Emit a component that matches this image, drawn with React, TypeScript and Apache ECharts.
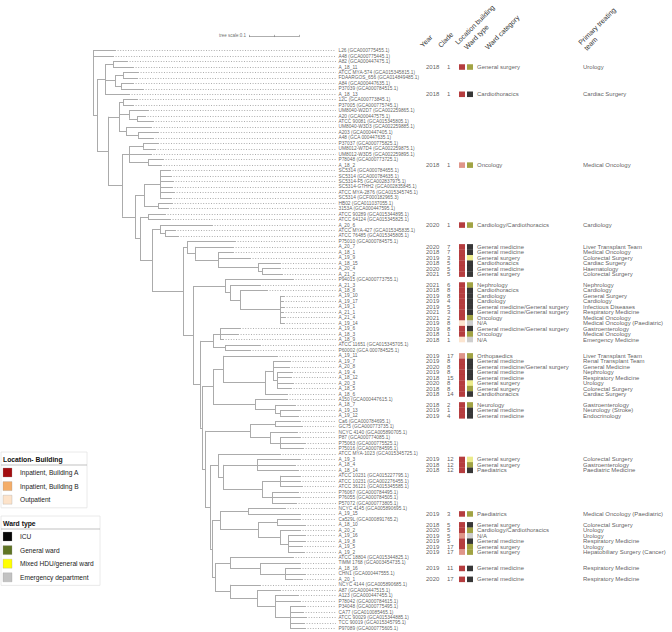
import React, { useEffect, useRef } from "react";
import * as echarts from "echarts";

// ---------------- DATA ----------------
const TIP_LABELS: string[] = [
  "L26 (GCA000775455.1)", "A48 (GCA000775445.1)", "A82 (GCA000447475.1)", "A_18_11",
  "ATCC MYA-574 (GCA015345815.1)", "FDAARGOS_656 (GCA014849485.1)", "A84 (GCA000447635.1)",
  "P37039 (GCA000784515.1)", "A_18_13", "12C (GCA000773845.1)", "P37005 (GCA000775745.1)",
  "UM8040-W2D7 (GCA002259865.1)", "A20 (GCA000447575.1)", "ATCC 90081 (GCA015345805.1)",
  "UM8040-W3D3 (GCA002259885.1)", "A203 (GCA000447405.1)", "A48 (GCA 000447635.1)",
  "P37037 (GCA000775825.1)", "UM8012-W7D4 (GCA002259875.1)", "UM8012-W3D5 (GCA002259895.1)",
  "P78048 (GCA000773725.1)", "A_18_2", "SC5314 (GCA000784655.1)", "SC5314 (GCA000784635.1)",
  "SC5314-F5 (GCA002837975.1)", "SC5314-GTHH2 (GCA002835845.1)", "ATCC MYA-2876 (GCA015345745.1)",
  "SC5314 (GCF000182965.3)", "HB02 (GCA011037055.1)", "3153A (GCA000447595.1)",
  "ATCC 90289 (GCA015344895.1)", "ATCC 64124 (GCA015345825.1)", "A_20_6",
  "ATCC MYA-427 (GCA015345835.1)", "ATCC 76485 (GCA015345805.1)", "P75010 (GCA000784575.1)",
  "A_20_7", "A_18_1", "A_19_9", "A_18_15", "A_20_4", "A_21_2", "P94015 (GCA000773755.1)",
  "A_21_3", "A_18_8", "A_19_10", "A_19_17", "A_19_1", "A_21_1", "A_21_4", "A_19_14", "A_19_6",
  "A_18_3", "A_18_9", "ATCC 11651 (GCA015345705.1)", "P60002 (GCA 000784525.1)", "A_19_11",
  "A_19_7", "A_20_8", "A_19_4", "A_18_12", "A_20_3", "A_18_5", "A_18_6", "A150 (GCA000447615.1)",
  "A_18_7", "A_19_13", "A_19_12", "Ca6 (GCA000784695.1)", "GC75 (GCA000773735.1)",
  "NCYC 4140 (GCA005890705.1)", "P87 (GCA000774085.1)", "P75063 (GCA000775525.1)",
  "P75016 (GCA000784595.1)", "ATCC MYA-1023 (GCA015345725.1)", "A_19_3", "A_18_4", "A_18_14",
  "ATCC 10231 (GCA015227795.1)", "ATCC 10231 (GCA002276455.1)", "ATCC 36121 (GCA015345585.1)",
  "P76067 (GCA000784495.1)", "P76055 (GCA000784505.1)", "P57072 (GCA000773805.1)",
  "NCYC 4145 (GCA005890695.1)", "A_19_15", "Ca529L (GCA000891765.2)", "A_18_10", "A_20_2",
  "A_19_16", "A_19_8", "A_19_5", "A_19_2", "ATCC 18804 (GCA015344825.1)",
  "TIMM 1768 (GCA003454735.1)", "A_18_16", "CHN1 (GCA000447555.1)", "A_20_1",
  "NCYC 4144 (GCA005890685.1)", "A87 (GCA000447515.1)", "A123 (GCA000447455.1)",
  "P78042 (GCA000784615.1)", "P34048 (GCA000775495.1)", "CA77 (GCA010085465.1)",
  "ATCC 90029 (GCA015344885.1)", "TCC 90019 (GCA015345795.1)", "P97089 (GCA000775605.1)",
];

// Tree in Newick pieces; leaves are 1-based tip numbers, branch lengths in substitutions/site
const TREE_PARTS: [string, string][] = [
  ["R", "(1:0.044,2:0.040,A:0.008)"],
  ["A", "(C1:0.016,B:0.022)"],
  ["C1", "((3:0.028,4:0.040):0.016,((5:0.030,6:0.028):0.016,(7:0.024,8:0.044):0.012):0.020,9:0.048)"],
  ["B", "(C2:0.022,C:0.028)"],
  ["C2", "((10:0.028,11:0.020):0.008,(12:0.038,(13:0.016,14:0.032):0.016):0.020,(15:0.050,(16:0.040,17:0.030):0.024):0.014)"],
  ["C", "(C3:0.014,D:0.026)"],
  ["C3", "((18:0.030,19:0.024):0.028,20:0.044,(21:0.030,22:0.026):0.038)"],
  ["D", "(C4:0.018,E:0.010)"],
  ["C4", "((23:0.020,24:0.022,25:0.026,26:0.024,27:0.028,28:0.022):0.032,(29:0.028,30:0.020):0.028)"],
  ["E", "(C5:0.016,F:0.024)"],
  ["C5", "(31:0.034,32:0.044)"],
  ["F", "(G:0.016,H:0.062)"],
  ["G", "(33:0.104,(34:0.020,35:0.026):0.010)"],
  ["H", "(M0:0.008,M2:0.020)"],
  ["M0", "(36:0.096,M1:0.016)"],
  ["M1", "(37:0.076,J:0.046)"],
  ["J", "(38:0.030,39:0.064,(40:0.044,(41:0.036,42:0.040):0.008):0.080)"],
  ["M2", "(N2:0.064,P:0.014)"],
  ["N2", "(43:0.136,(44:0.060,(45:0.054,(46:0.008,47:0.006,48:0.008,49:0.006,50:0.010,51:0.008):0.080):0.020):0.010)"],
  ["P", "(Q:0.026,P2:0.004)"],
  ["Q", "((52:0.040,53:0.036,54:0.006):0.014,(55:0.070,56:0.050):0.024)"],
  ["P2", "(S1:0.022,U:0.006)"],
  ["S1", "((57:0.108,((58:0.034,59:0.032,(60:0.030,61:0.028,62:0.032,63:0.028):0.008):0.016,64:0.044):0.084):0.020,(65:0.064,(66:0.040,(67:0.040,68:0.036):0.010):0.040):0.084)"],
  ["U", "(T:0.090,V:0.010)"],
  ["T", "((69:0.050,70:0.054):0.050,(71:0.054,(72:0.040,73:0.050,74:0.046):0.020):0.040)"],
  ["V", "(W:0.016,X:0.004)"],
  ["W", "(75:0.124,((76:0.086,77:0.076,78:0.082):0.068,((79:0.040,80:0.040,81:0.044):0.036,(82:0.052,83:0.056,84:0.048):0.020):0.078):0.010)"],
  ["X", "(X1:0.016,Y:0.006)"],
  ["X1", "((85:0.074,86:0.104):0.056,((87:0.046,88:0.056):0.038,(89:0.040,(90:0.034,91:0.034,92:0.028,93:0.032):0.016):0.044):0.076)"],
  ["Y", "(Y1:0.030,Z:0.030)"],
  ["Y1", "(94:0.126,(95:0.080,(96:0.030,97:0.040,98:0.034):0.050):0.060)"],
  ["Z", "(99:0.060,(100:0.046,(101:0.046,102:0.050,(103:0.030,104:0.026,105:0.032,106:0.028,107:0.030):0.030):0.036):0.054)"],
];

const ANNOT_TIPS = [
  "A_18_11", "A_18_13", "A_18_2", "A_20_6", "A_20_7", "A_18_1", "A_19_9", "A_18_15", "A_20_4", "A_21_2",
  "A_21_3", "A_18_8", "A_19_10", "A_19_17", "A_19_1", "A_21_1", "A_21_4", "A_19_14", "A_19_6", "A_18_3",
  "A_18_9", "A_19_11", "A_19_7", "A_20_8", "A_19_4", "A_18_12", "A_20_3", "A_18_5", "A_18_6", "A_18_7",
  "A_19_13", "A_19_12", "A_19_3", "A_18_4", "A_18_14", "A_19_15", "A_18_10", "A_20_2", "A_19_16", "A_19_8",
  "A_19_5", "A_19_2", "A_18_16", "A_20_1",
];
const YEARS = [
  2018, 2018, 2018, 2020, 2020, 2018, 2019, 2018, 2020, 2021,
  2021, 2018, 2019, 2019, 2019, 2021, 2021, 2019, 2019, 2018,
  2018, 2019, 2019, 2020, 2019, 2018, 2020, 2018, 2018, 2018,
  2019, 2019, 2019, 2018, 2018, 2019, 2018, 2020, 2019, 2019,
  2019, 2019, 2019, 2020,
];
const CLADES = [
  1, 1, 1, 1, 7, 7, 3, 5, 5, 5,
  6, 8, 8, 4, 5, 3, 2, 8, 8, 1,
  1, 17, 8, 8, 8, 15, 8, 8, 14, 2,
  1, 4, 12, 12, 12, 3, 5, 5, 5, 5,
  17, 17, 11, 17,
];
// A = Inpatient, Building A; B = Inpatient, Building B; O = Outpatient
const LOCATIONS = [
  "A", "A", "B", "A", "A", "A", "A", "A", "A", "A",
  "A", "A", "A", "A", "A", "A", "A", "O", "A", "A",
  "O", "B", "A", "A", "A", "A", "A", "A", "A", "A",
  "A", "A", "A", "A", "A", "A", "A", "A", "B", "A",
  "A", "B", "A", "A",
];
// ICU, GW = general ward, HDU = mixed HDU/general ward, ED = emergency department
const WARD_TYPES = [
  "GW", "ICU", "GW", "GW", "ICU", "ICU", "HDU", "ICU", "ICU", "ICU",
  "GW", "ICU", "ICU", "ICU", "ICU", "ICU", "GW", "ED", "ICU", "GW",
  "ED", "GW", "ICU", "ICU", "ICU", "ICU", "HDU", "GW", "ICU", "GW",
  "ICU", "ICU", "HDU", "GW", "ICU", "GW", "ICU", "GW", "ED", "ICU",
  "GW", "GW", "ICU", "ICU",
];
const WARD_CATEGORIES = [
  "General surgery", "Cardiothoracics", "Oncology", "Cardiology/Cardiothoracics",
  "General medicine", "General medicine", "General surgery", "Cardiothoracics", "General medicine", "General surgery",
  "Nephrology", "Cardiothoracics", "Cardiology", "Cardiology", "General medicine/General surgery",
  "General medicine/General surgery", "Oncology", "N/A", "General medicine/General surgery", "Oncology", "N/A",
  "Orthopaedics", "General medicine", "General medicine/General surgery", "General medicine", "General medicine",
  "General surgery", "General surgery", "Cardiothoracics",
  "Neurology", "General medicine", "General medicine",
  "General surgery", "General surgery", "Paediatrics",
  "Paediatrics",
  "General surgery", "Cardiology/Cardiothoracics", "N/A", "General medicine", "General surgery", "General surgery",
  "General medicine", "General medicine",
];
const TEAMS = [
  "Urology", "Cardiac Surgery", "Medical Oncology", "Cardiology",
  "Liver Transplant Team", "Medical Oncology", "Colorectal Surgery", "Cardiac Surgery", "Haematology", "Colorectal Surgery",
  "Nephrology", "Cardiology", "General Surgery", "Cardiology", "Infectious Diseases",
  "Respiratory Medicine", "Medical Oncology", "Medical Oncology (Paediatric)", "Gastroenterology", "Medical Oncology",
  "Emergency Medicine",
  "Liver Transplant Team", "Renal Transplant Team", "General Medicine", "Nephrology", "Respiratory Medicine",
  "Urology", "Colorectal Surgery", "Cardiac Surgery",
  "Gastroenterology", "Neurology (Stroke)", "Endocrinology",
  "Colorectal Surgery", "Gastroenterology", "Paediatric Medicine",
  "Medical Oncology (Paediatric)",
  "Colorectal Surgery", "Urology", "Urology", "Respiratory Medicine", "Urology", "Hepatobiliary Surgery (Cancer)",
  "Respiratory Medicine", "Respiratory Medicine",
];
const COLUMN_HEADERS = ["Year", "Clade", "Location building", "Ward type", "Ward category", "Primary treating\nteam"];
const LOCATION_LEGEND = ["Inpatient, Building A", "Inpatient, Building B", "Outpatient"];
const WARD_LEGEND = ["ICU", "General ward", "Mixed HDU/general ward", "Emergency department"];
const SCALE_BAR_LENGTH = 0.1;

// ---------------- STYLE / LAYOUT ----------------
const FONT = "Liberation Sans, Arial, Helvetica, sans-serif";
const LOC_COLORS: Record<string, string> = { A: "#a30d0f", B: "#d77a6c", O: "#fbdfc4" };
const LOC_LEGEND_COLORS = ["#a30d0f", "#f4ad68", "#fde3ca"];
const WARD_COLORS: Record<string, string> = { ICU: "#050505", GW: "#8a8c14", HDU: "#e6e66e", ED: "#c2c2c2" };
const WARD_LEGEND_COLORS = ["#050505", "#5f7424", "#ffff00", "#c2c2c2"];
const TREE_XMAX = 0.486;
const Y_MIN = -3.5;
const Y_MAX = 106;
const GRID_TOP = 31.6;
const GRID_H = 596.8;
const COL = { year: 6, clade: 27, loc: 42, ward: 50, cat: 57, team: 163 };
const TABLE_FONT = 6;
const LEGEND_STEP = 13.6;

type TNode = { children: TNode[]; len: number; tip: number; x: number; y: number };

function buildTree(): TNode {
  const parts = new Map(TREE_PARTS);
  const parsePart = (name: string): TNode => {
    const s = parts.get(name)!;
    let i = 0;
    const readTok = (stops: string) => {
      let t = "";
      while (i < s.length && !stops.includes(s[i])) t += s[i++];
      return t.trim();
    };
    const parseNode = (): TNode => {
      let node: TNode;
      if (s[i] === "(") {
        i++;
        const children: TNode[] = [];
        for (;;) {
          children.push(parseNode());
          const c = s[i++];
          if (c === ")" || c === undefined) break;
        }
        node = { children, len: 0, tip: -1, x: 0, y: 0 };
      } else {
        const tok = readTok(",():;");
        node = /^\d+$/.test(tok)
          ? { children: [], len: 0, tip: Number(tok) - 1, x: 0, y: 0 }
          : parsePart(tok);
      }
      if (s[i] === ":") {
        i++;
        node.len = parseFloat(readTok(",();"));
      }
      return node;
    };
    return parseNode();
  };
  const root = parsePart("R");
  root.len = 0;
  const layout = (n: TNode, px: number) => {
    n.x = px + n.len;
    if (!n.children.length) {
      n.y = n.tip;
      return;
    }
    n.children.forEach((c) => layout(c, n.x));
    n.y = (n.children[0].y + n.children[n.children.length - 1].y) / 2;
  };
  layout(root, 0);
  return root;
}

function buildOption() {
  const root = buildTree();
  const solid: number[][][] = [];
  const dotted: number[][][] = [];
  const walk = (n: TNode, px: number | null) => {
    if (px !== null) solid.push([[px, n.y], [n.x, n.y]]);
    if (n.children.length) {
      solid.push([[n.x, n.children[0].y], [n.x, n.children[n.children.length - 1].y]]);
      n.children.forEach((c) => walk(c, n.x));
    } else {
      dotted.push([[n.x, n.y], [TREE_XMAX, n.y]]);
    }
  };
  walk(root, null);

  const sbX = 0.312;
  const sbY = -2.7;
  const scaleSegs: number[][][] = [
    [[sbX, sbY], [sbX + SCALE_BAR_LENGTH, sbY]],
    [[sbX, sbY - 0.2], [sbX, sbY + 0.2]],
    [[sbX + SCALE_BAR_LENGTH / 2, sbY - 0.2], [sbX + SCALE_BAR_LENGTH / 2, sbY + 0.2]],
    [[sbX + SCALE_BAR_LENGTH, sbY - 0.2], [sbX + SCALE_BAR_LENGTH, sbY + 0.2]],
  ];

  const rows = ANNOT_TIPS.map((t) => TIP_LABELS.indexOf(t));
  const hidden = { color: "rgba(0,0,0,0)" };
  const textSeries = (col: number, texts: (string | number)[], size = TABLE_FONT) => ({
    type: "scatter",
    xAxisIndex: 1,
    yAxisIndex: 1,
    symbolSize: 0.01,
    itemStyle: hidden,
    silent: true,
    data: rows.map((r, k) => ({ value: [col, r], name: String(texts[k]) })),
    label: {
      show: true,
      position: "right",
      distance: 0,
      formatter: "{b}",
      fontSize: size,
      lineHeight: size,
      fontFamily: FONT,
      color: "#333",
    },
  });
  const boxSeries = (col: number, colors: string[]) => ({
    type: "scatter",
    xAxisIndex: 1,
    yAxisIndex: 1,
    symbol: "rect",
    symbolSize: [6, GRID_H / (Y_MAX - Y_MIN) + 0.1],
    silent: true,
    data: rows.map((r, k) => ({ value: [col, r], itemStyle: { color: colors[k] } })),
  });

  const headerPos: [number, number][] = [
    [424, 49], [442, 49], [459, 46], [468, 51], [489, 51], [588, 52],
  ];
  const headers = COLUMN_HEADERS.map((h, k) => ({
    type: "text",
    x: headerPos[k][0],
    y: headerPos[k][1],
    rotation: Math.PI / 4,
    style: {
      text: h,
      fontSize: 7,
      fontFamily: FONT,
      fill: "#333",
      textAlign: "left",
      textVerticalAlign: "bottom",
      align: "left",
      verticalAlign: "bottom",
      lineHeight: 8,
    },
  }));

  const legendBlock = (
    title: string,
    items: string[],
    colors: string[],
    top: number,
    width: number,
  ) => {
    const els: any[] = [];
    const h = 14 + items.length * LEGEND_STEP + 1;
    els.push({
      type: "rect",
      shape: { x: 1, y: top, width, height: h },
      style: { fill: "#fff", stroke: "#e4e4e4", lineWidth: 0.8 },
    });
    els.push({
      type: "text",
      x: 3,
      y: top + 7,
      style: {
        text: title,
        fontSize: 6.8,
        fontWeight: "bold",
        fontFamily: FONT,
        fill: "#111",
        textVerticalAlign: "middle",
        verticalAlign: "middle",
      },
    });
    els.push({
      type: "line",
      shape: { x1: 1, y1: top + 13, x2: 1 + width, y2: top + 13 },
      style: { stroke: "#999", lineWidth: 0.6 },
    });
    items.forEach((it, k) => {
      const cy = top + 20.5 + k * LEGEND_STEP;
      els.push({
        type: "rect",
        shape: { x: 3, y: cy - 4.5, width: 9, height: 9 },
        style: { fill: colors[k], stroke: "#999", lineWidth: 0.3 },
      });
      els.push({
        type: "text",
        x: 20,
        y: cy,
        style: {
          text: it,
          fontSize: 6.6,
          fontFamily: FONT,
          fill: "#222",
          textVerticalAlign: "middle",
          verticalAlign: "middle",
        },
      });
    });
    return els;
  };

  const graphics = [
    ...headers,
    ...legendBlock("Location- Building", LOCATION_LEGEND, LOC_LEGEND_COLORS, 452, 86),
    ...legendBlock("Ward type", WARD_LEGEND, WARD_LEGEND_COLORS, 516, 99),
  ];

  const yAxisBase = {
    type: "value",
    min: Y_MIN,
    max: Y_MAX,
    inverse: true,
    show: false,
    splitLine: { show: false },
  };

  return {
    animation: false,
    backgroundColor: "#fff",
    grid: [
      { left: 93, width: 243, top: GRID_TOP, height: GRID_H },
      { left: 420, width: 252, top: GRID_TOP, height: GRID_H },
    ],
    xAxis: [
      { type: "value", gridIndex: 0, min: 0, max: TREE_XMAX, show: false, splitLine: { show: false } },
      { type: "value", gridIndex: 1, min: 0, max: 252, show: false, splitLine: { show: false } },
    ],
    yAxis: [
      { ...yAxisBase, gridIndex: 0 },
      { ...yAxisBase, gridIndex: 1 },
    ],
    graphic: graphics,
    series: [
      {
        type: "lines",
        coordinateSystem: "cartesian2d",
        xAxisIndex: 0,
        yAxisIndex: 0,
        silent: true,
        clip: false,
        lineStyle: { color: "#8a8a8a", width: 0.7, type: [1, 1.6], opacity: 1, curveness: 0 },
        data: dotted.map((c) => ({ coords: c })),
      },
      {
        type: "lines",
        coordinateSystem: "cartesian2d",
        xAxisIndex: 0,
        yAxisIndex: 0,
        silent: true,
        clip: false,
        lineStyle: { color: "#ababab", width: 1, opacity: 1, curveness: 0 },
        data: solid.map((c) => ({ coords: c })),
      },
      {
        type: "lines",
        coordinateSystem: "cartesian2d",
        xAxisIndex: 0,
        yAxisIndex: 0,
        silent: true,
        clip: false,
        lineStyle: { color: "#777", width: 0.6, opacity: 1, curveness: 0 },
        data: scaleSegs.map((c) => ({ coords: c })),
      },
      {
        type: "scatter",
        xAxisIndex: 0,
        yAxisIndex: 0,
        symbolSize: 0.01,
        itemStyle: hidden,
        silent: true,
        data: [{ value: [sbX, sbY], name: "tree scale:" + SCALE_BAR_LENGTH }],
        label: {
          show: true,
          position: "left",
          distance: 3,
          formatter: "{b}",
          fontSize: 4.5,
          fontFamily: FONT,
          color: "#444",
        },
      },
      {
        type: "scatter",
        xAxisIndex: 0,
        yAxisIndex: 0,
        symbolSize: 0.01,
        itemStyle: hidden,
        silent: true,
        data: TIP_LABELS.map((t, i) => ({ value: [TREE_XMAX, i], name: t })),
        label: {
          show: true,
          position: "right",
          distance: 2.5,
          formatter: "{b}",
          fontSize: 4.8,
          lineHeight: 4.8,
          fontFamily: FONT,
          color: "#333",
        },
      },
      textSeries(COL.year, YEARS),
      textSeries(COL.clade, CLADES),
      boxSeries(COL.loc, LOCATIONS.map((l) => LOC_COLORS[l])),
      boxSeries(COL.ward, WARD_TYPES.map((w) => WARD_COLORS[w])),
      textSeries(COL.cat, WARD_CATEGORIES),
      textSeries(COL.team, TEAMS),
    ],
  };
}

export default function App() {
  const ref = useRef<HTMLDivElement>(null);
  useEffect(() => {
    if (!ref.current) return;
    const chart = echarts.init(ref.current, null, { renderer: "svg" });
    chart.setOption(buildOption() as any);
    return () => chart.dispose();
  }, []);
  return (
    <div
      ref={ref}
      style={{ position: "fixed", left: 0, top: 0, width: 672, height: 632, background: "#fff" }}
    />
  );
}
